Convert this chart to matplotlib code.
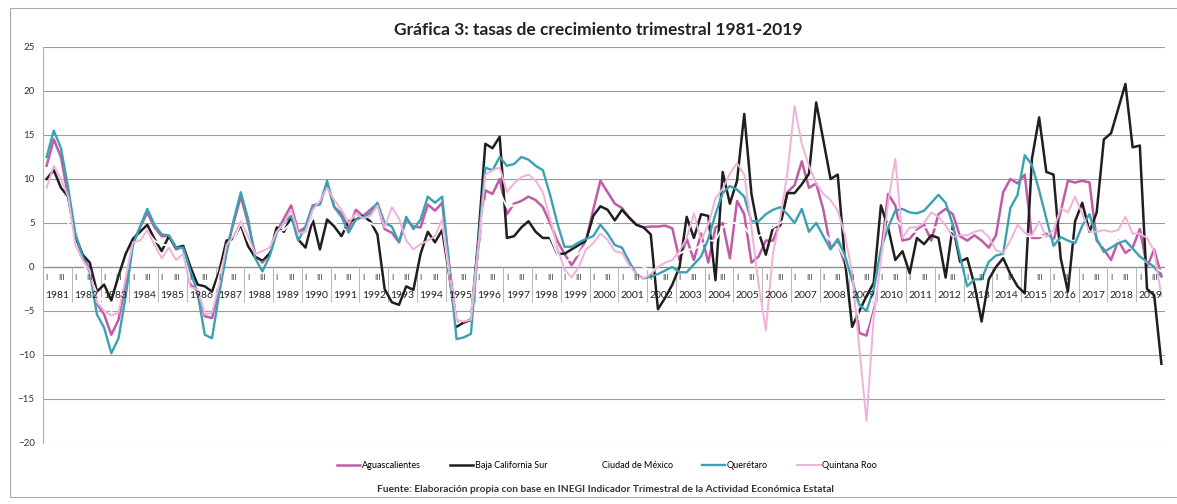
import matplotlib.pyplot as plt
import numpy as np

plt.rcParams['font.family'] = ['Lato', 'DejaVu Sans']

years = list(range(1981, 2020))
quarter_marks = ["I", "III"]

# tasas de crecimiento trimestral, 4 valores por año (1981-2019)
aguascalientes = [
    11.5, 14.5, 12.5, 8, 3.5, 1.4, -0.4, -4.2,      # 1981-82
    -5.4, -7.7, -6, -1.8, 2.8, 4.5, 6.2, 4.5,       # 1983-84
    3.5, 3.5, 2, 2.3, -2, -2.7, -5.6, -5.8,         # 1985-86
    -2.5, 2, 5, 8, 5, 1.5, 0.5, 1.5,                # 1987-88
    4, 5.5, 7, 4, 4.5, 7, 7.2, 9.5,                 # 1989-90
    6.8, 6.1, 4.3, 6.5, 5.8, 6.5, 7.2, 4.3,         # 1991-92
    3.9, 2.8, 5.4, 4.6, 4.5, 7.1, 6.4, 7.3,         # 1993-94
    0, -6.3, -6.3, -6, 2, 8.7, 8.3, 10,             # 1995-96
    6, 7.2, 7.5, 8, 7.6, 6.8, 5, 3,                 # 1997-98
    1.5, 0.2, 1.5, 3, 6.5, 9.8, 8.5, 7.2,           # 1999-00
    6.7, 5.6, 4.8, 4.5, 4.6, 4.6, 4.7, 4.4,         # 2001-02
    0.8, 3.2, 0.8, 3.8, 0.5, 4.5, 5, 1,             # 2003-04
    7.5, 6, 0.5, 1.2, 3, 3, 5, 8.5,                 # 2005-06
    9.3, 12, 9, 9.5, 6.5, 2.2, 2.8, 0.3,            # 2007-08
    -1, -7.5, -7.8, -4.2, 1.5, 8.3, 7, 3,           # 2009-10
    3.2, 4.2, 4.8, 3, 6, 6.6, 6, 3.5,               # 2011-12
    3, 3.6, 3, 2.2, 3.6, 8.5, 10, 9.5,              # 2013-14
    10.5, 3.3, 3.3, 3.8, 3, 6.3, 9.8, 9.6,          # 2015-16
    9.8, 9.6, 3, 2, 0.8, 3, 1.6, 2.2,               # 2017-18
    4.3, 0, 2, -1,                                  # 2019
]

baja_california_sur = [
    10, 11, 9, 8, 3.5, 1.4, 0.5, -2.8,
    -2, -3.8, -1, 1.5, 3.2, 4, 4.8, 3.2,
    1.8, 3.5, 2.2, 2.4, 0, -2, -2.2, -2.8,
    -0.5, 3, 3.2, 4.8, 2.4, 1.1, 0.8, 1.5,
    4.5, 4, 5.7, 3.1, 2.2, 5.4, 2, 5.4,
    4.6, 3.5, 5.2, 5.4, 5.8, 5.2, 3.7, -2.5,
    -4, -4.3, -2.2, -2.6, 1.5, 4, 2.8, 4.2,
    -1, -6.8, -6.3, -6, 3, 14, 13.5, 14.8,
    3.3, 3.5, 4.5, 5.2, 4, 3.3, 3.3, 1.5,
    1.5, 2, 2.5, 3, 5.8, 6.9, 6.5, 5.3,
    6.5, 5.6, 4.8, 4.5, 3.7, -4.8, -3.5, -2,
    0, 5.7, 3.3, 6, 5.8, -1.5, 10.8, 7.2,
    9.8, 17.4, 8.3, 4, 1.4, 4.5, 4.7, 8.4,
    8.4, 9.4, 10.6, 18.7, 14.4, 10, 10.5, 0.8,
    -6.8, -5, -3.3, -1.8, 7, 4.5, 0.8, 1.8,
    -0.7, 3.3, 2.6, 3.6, 3.3, -1.2, 4.7, 0.6,
    1, -2, -6.2, -1.4, 0, 1, -0.8, -2.2,
    -3, 12.3, 17, 10.8, 10.5, 1, -2.8, 5.2,
    7.3, 4, 6.2, 14.5, 15.2, 18, 20.8, 13.6,
    13.8, -2.5, -3.2, -11,
]

ciudad_de_mexico = [
    8, 9, 7.5, 5, 2, 0.5, -1, -3,
    -4, -5, -4.5, -1, 2.5, 3.5, 4, 3,
    2.5, 2.5, 1.5, 1.5, -1.5, -2.5, -4, -4,
    -1, 2, 3, 5, 3, 1.5, 1, 2,
    4, 4.2, 5, 3.5, 4, 5.5, 5.5, 6,
    5, 4.5, 4, 5, 5, 5, 4.5, 3,
    3, 2.5, 3, 3, 3.5, 5, 4.5, 5,
    -1, -6.5, -6, -5.5, 2.5, 7.5, 7.5, 8.5,
    6.8, 7, 7, 7.5, 6.5, 5.5, 3.5, 1.5,
    0.5, 1, 1.5, 2.5, 4.5, 6, 5.5, 4.5,
    3.5, 1.5, 0.5, 0, -0.5, 0, 0.5, 1,
    1.5, 2, 2, 2.5, 3, 3, 4.5, 5,
    5, 4.5, 3.5, 3.5, 4, 4.5, 5, 5.5,
    5, 5, 4.5, 4.5, 4, 3, 2.5, 1,
    -2, -6, -7, -4, 1, 5, 5.5, 4.5,
    4, 4, 4.5, 4.5, 4.5, 4.5, 4, 3,
    2, 2, 1.5, 1.5, 2, 2.5, 3, 3,
    3.5, 3.5, 3.5, 3.5, 3, 3, 3, 3,
    3, 3, 2.5, 2.5, 2.5, 3, 2.5, 2,
    1, 0.5, 0, -0.5,
]

queretaro = [
    12.5, 15.5, 13.5, 9, 3.8, 1.2, -0.6, -5.4,
    -6.9, -9.8, -8.1, -3.3, 2.5, 4.6, 6.6, 4.8,
    3.7, 3.6, 2.2, 2.2, -0.5, -3, -7.7, -8.1,
    -3, 1.5, 5.3, 8.5, 5.5, 1, -0.5, 1.2,
    3.9, 5.1, 5.8, 3, 4.6, 6.9, 7.1, 9.8,
    6.8, 5.7, 3.9, 5.4, 5.7, 6.1, 7.3, 5,
    4.6, 2.8, 5.7, 4.3, 5.4, 8, 7.3, 8,
    0, -8.2, -8, -7.6, 2.5, 11.3, 11, 12.5,
    11.5, 11.7, 12.5, 12.2, 11.5, 11, 8.2, 5,
    2.3, 2.3, 2.8, 3.2, 3.5, 4.8, 3.8, 2.5,
    2.2, 0.6, -0.8, -1.3, -1.1, -0.8, -0.4, 0,
    -0.6, -0.6, 0.3, 1.2, 3.2, 6, 8.4, 9.2,
    8.8, 8, 5.2, 5.2, 6, 6.5, 6.8, 6,
    5, 6.6, 4, 5, 3.5, 2, 3.2, 1.3,
    -1.5, -4.3, -5, -2.5, 2, 4.5, 6.4, 6.6,
    6.2, 6.1, 6.4, 7.3, 8.2, 7.3, 4.8, 1.2,
    -2.2, -1.4, -1.4, 0.6, 1.3, 1.5, 6.7, 8.2,
    12.7, 11.6, 8.7, 5.5, 2.4, 3.4, 3, 2.7,
    4.7, 6, 3.2, 1.7, 2.2, 2.7, 3, 2.1,
    1.2, 0.6, 0, -1.1,
]

quintana_roo = [
    9, 11.5, 10, 8, 2.5, 0.8, -0.4, -4,
    -5, -5.5, -5.2, -1.2, 2.8, 3, 4.2, 2.5,
    1, 2.2, 0.8, 1.5, -2.3, -2.5, -5.4, -5.2,
    -2, 2.5, 3.5, 5.2, 3.5, 1.5, 1.8, 2.2,
    4, 5, 6.5, 3.8, 4, 6.5, 7.5, 9,
    7.6, 6.5, 5, 6.1, 5.5, 5.8, 7, 4.5,
    6.8, 5.5, 3, 2, 2.6, 3, 3.5, 5.4,
    -0.5, -6, -6.2, -6, 2, 10.5, 11, 11.3,
    8.5, 9.5, 10.2, 10.5, 9.8, 8.5, 5.5, 2.3,
    -0.3, -1.2, 0, 2, 2.7, 3.8, 3.1, 1.8,
    1.6, 0.2, -0.8, -1.3, -0.8, 0, 0.5, 0.8,
    1.8, 3.3, 6.1, 3, 4.8, 7.8, 8.9, 10.6,
    11.8, 10.5, 4.5, -2, -7.2, 1.6, 5.5, 10.7,
    18.3, 14, 11.5, 9.5, 8.3, 7.6, 6.4, 3.6,
    -0.6, -9.2, -17.5, -5.7, 0.8, 7.3, 12.3, 3.3,
    4.5, 4.5, 5, 6.2, 5.7, 4.7, 3.4, 3.6,
    3.6, 4, 4.2, 3.4, 1.9, 1.6, 3, 4.8,
    3.9, 3.6, 5.2, 3.4, 4.2, 6.7, 6.2, 8,
    6, 4, 4, 4.2, 4, 4.2, 5.7, 3.8,
    3.8, 3.3, 1.8, -3.3,
]

W, H = 1177, 504
fig = plt.figure(figsize=(W / 100, H / 100), dpi=100)
ax = fig.add_axes([43 / W, 1 - 443 / H, (1165 - 43) / W, (443 - 47) / H])

x = np.arange(len(years) * 4)
ax.plot(x, aguascalientes, color='#c15ba6', lw=1.8, label='Aguascalientes', zorder=3)
ax.plot(x, baja_california_sur, color='#1f1f1f', lw=1.8, label='Baja California Sur', zorder=3)
ax.plot(x, ciudad_de_mexico, color='white', lw=1.3, label='Ciudad de México', zorder=3)
ax.plot(x, queretaro, color='#3aa2b0', lw=1.7, label='Querétaro', zorder=3)
ax.plot(x, quintana_roo, color='#f0b2d8', lw=1.4, label='Quintana Roo', zorder=3)

ax.set_xlim(-0.5, len(x) - 0.5)
ax.set_ylim(-20, 25)
ax.set_yticks(range(-20, 26, 5))
ax.set_xticks([])
ax.tick_params(axis='y', length=0, labelsize=7, colors='#333333', pad=6)
ax.grid(axis='y', color='#9c9c9c', lw=0.8)
ax.set_axisbelow(True)
for s in ['top', 'right', 'bottom']:
    ax.spines[s].set_visible(False)
ax.spines['left'].set_color('#b0b0b0')
ax.axhline(0, color='#8c8c8c', lw=0.9, zorder=1)

# eje de categorias (trimestres / años) cruzando en 0
for k, yr in enumerate(years):
    ax.text(4 * k, -1.2, quarter_marks[0], ha='center', va='center', fontsize=5.5, color='#333333')
    ax.text(4 * k + 2, -1.2, quarter_marks[1], ha='center', va='center', fontsize=5.5, color='#333333')
    ax.text(4 * k + 1.5, -3.2, str(yr), ha='center', va='center', fontsize=7.5, color='#222222')
    ax.vlines(4 * k - 0.5, -4.0, 0, color='#b5b5b5', lw=0.7, zorder=1)
ax.vlines(len(x) - 0.5, -4.0, 0, color='#b5b5b5', lw=0.7, zorder=1)

fig.text(598 / W, 1 - 30 / H, 'Gráfica 3: tasas de crecimiento trimestral 1981-2019',
         ha='center', va='center', fontsize=12.5, fontweight='bold', color='#222222')

fig.legend(loc='center', bbox_to_anchor=(607 / W, 1 - 466 / H), ncol=5, frameon=False,
           fontsize=6.5, handlelength=2.6, columnspacing=3.2, handletextpad=0.2)

fig.text(605 / W, 1 - 490 / H,
         'Fuente: Elaboración propia con base en INEGI Indicador Trimestral de la Actividad Económica Estatal',
         ha='center', va='center', fontsize=7.3, fontweight='bold', color='#333333')

fig.patches.append(plt.Rectangle((10 / W, 1 - 497 / H), 1.0, (497 - 8) / H,
                                 transform=fig.transFigure, fill=False,
                                 edgecolor='#a8a8a8', lw=0.8))

fig.savefig('out.png', dpi=100)
